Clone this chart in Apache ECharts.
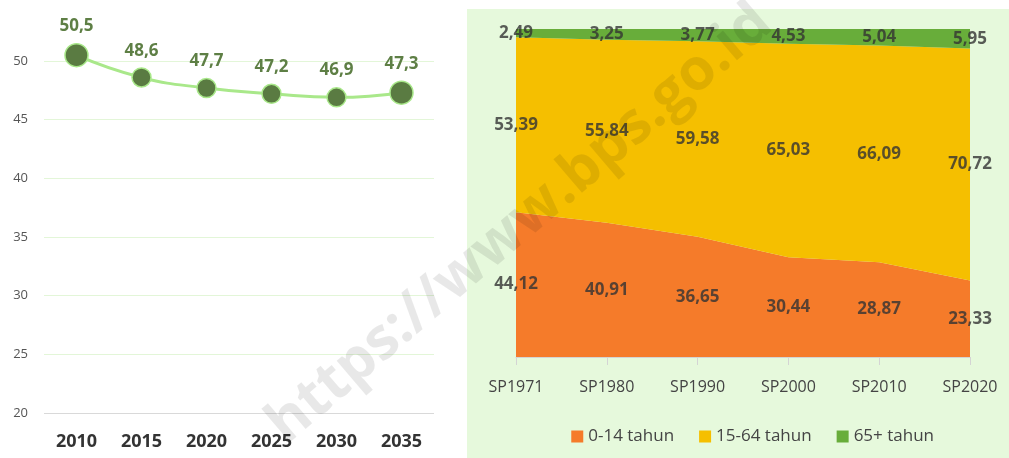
<!DOCTYPE html>
<html>
<head>
<meta charset="utf-8">
<script src="https://cdn.jsdelivr.net/npm/echarts@6/dist/echarts.min.js"></script>
<style>
  html, body { margin: 0; padding: 0; background: #fff; }
  #root { width: 1009px; height: 458px; }
</style>
</head>
<body>
<div id="root"></div>
<script>
// data kiri: rasio ketergantungan
var years = ['2010', '2015', '2020', '2025', '2030', '2035'];
var ratio = [50.5, 48.6, 47.7, 47.2, 46.9, 47.3];

// data kanan: komposisi umur (%)
var censuses = ['SP1971', 'SP1980', 'SP1990', 'SP2000', 'SP2010', 'SP2020'];
var age0_14 = [44.12, 40.91, 36.65, 30.44, 28.87, 23.33];
var age15_64 = [53.39, 55.84, 59.58, 65.03, 66.09, 70.72];
var age65 = [2.49, 3.25, 3.77, 4.53, 5.04, 5.95];

function comma(v, d) { return v.toFixed(d).replace('.', ','); }

// posisi label di tengah tiap pita
var mid0 = age0_14.map(function (v) { return v / 2; });
var mid1 = age15_64.map(function (v, i) { return age0_14[i] + v / 2; });
var mid2 = age65.map(function (v, i) { return age0_14[i] + age15_64[i] + v / 2; });

var font = '"Open Sans", "Noto Sans", sans-serif';

function labelSeries(mids, vals) {
    return {
        type: 'scatter', xAxisIndex: 1, yAxisIndex: 1,
        symbolSize: 1, itemStyle: { color: 'rgba(0,0,0,0)' },
        silent: true, z: 5,
        data: mids,
        label: {
            show: true, position: 'inside',
            fontFamily: font, fontSize: 17, fontWeight: 'bold', color: '#333',
            formatter: function (p) { return comma(vals[p.dataIndex], 2); }
        }
    };
}

var myChart = echarts.init(document.getElementById('root'));
myChart.setOption({
    animation: false,
    textStyle: { fontFamily: font },
    graphic: [
        { type: 'rect', z: -10, shape: { x: 467, y: 9, width: 542, height: 449 }, style: { fill: '#e6f9dc' } },
        {
            type: 'text', z: 100, x: 520, y: 224, rotation: 40.5 * Math.PI / 180,
            style: {
                text: 'https://www.bps.go.id', fontSize: 58, fontWeight: 'bold', fontFamily: font,
                fill: 'rgba(0,0,0,0.09)', align: 'center', verticalAlign: 'middle'
            }
        }
    ],
    legend: {
        data: ['0-14 tahun', '15-64 tahun', '65+ tahun'],
        right: 70, top: 423, orient: 'horizontal',
        icon: 'rect', itemWidth: 12, itemHeight: 12, itemGap: 25,
        textStyle: { fontSize: 17, color: '#444', fontFamily: font }
    },
    grid: [
        { left: 44, width: 390, top: 61, bottom: 45 },
        { left: 516, right: 39, top: 29, bottom: 101 }
    ],
    xAxis: [
        {
            type: 'category', gridIndex: 0, data: years, boundaryGap: true,
            axisLine: { show: false }, axisTick: { show: false },
            axisLabel: { fontSize: 18, fontWeight: 'bold', color: '#333', margin: 20 }
        },
        {
            type: 'category', gridIndex: 1, data: censuses, boundaryGap: false,
            axisLine: { lineStyle: { color: '#d4d4d4' } },
            axisTick: { show: true, length: 8, lineStyle: { color: '#d4d4d4' } },
            axisLabel: { fontSize: 16, color: '#444', margin: 22 }
        }
    ],
    yAxis: [
        {
            type: 'value', gridIndex: 0, min: 20, max: 50, interval: 5,
            axisLine: { show: false }, axisTick: { show: false },
            axisLabel: { fontSize: 13, color: '#555', margin: 16 },
            splitLine: { lineStyle: { color: ['#d9d9d9', '#e3f6d8', '#e3f6d8', '#e3f6d8', '#e3f6d8', '#e3f6d8', '#e3f6d8'] } }
        },
        {
            type: 'value', gridIndex: 1, min: 0, max: 100, show: false
        }
    ],
    series: [
        {
            name: 'ratio', type: 'line', xAxisIndex: 0, yAxisIndex: 0,
            data: ratio, smooth: true, clip: false,
            lineStyle: { color: '#a9e88a', width: 3 },
            symbol: 'circle',
            symbolSize: function (v, p) { return (p.dataIndex === 0 || p.dataIndex === ratio.length - 1) ? 23 : 19; },
            itemStyle: { color: '#5a7b42', borderColor: '#a9e88a', borderWidth: 1.5 },
            label: {
                show: true, position: 'top', distance: 8,
                fontSize: 17, fontWeight: 'bold', color: '#5e7f45',
                formatter: function (p) { return comma(p.value, 1); }
            }
        },
        {
            name: '0-14 tahun', type: 'line', xAxisIndex: 1, yAxisIndex: 1, stack: 'umur',
            data: age0_14, symbol: 'none', lineStyle: { width: 0 },
            itemStyle: { color: '#f57b2a' }, areaStyle: { color: '#f57b2a', opacity: 1 }
        },
        {
            name: '15-64 tahun', type: 'line', xAxisIndex: 1, yAxisIndex: 1, stack: 'umur',
            data: age15_64, symbol: 'none', lineStyle: { width: 0 },
            itemStyle: { color: '#f5bf00' }, areaStyle: { color: '#f5bf00', opacity: 1 }
        },
        {
            name: '65+ tahun', type: 'line', xAxisIndex: 1, yAxisIndex: 1, stack: 'umur',
            data: age65, symbol: 'none', lineStyle: { width: 0 },
            itemStyle: { color: '#68ad3a' }, areaStyle: { color: '#68ad3a', opacity: 1 }
        },
        labelSeries(mid0, age0_14),
        labelSeries(mid1, age15_64),
        labelSeries(mid2, age65)
    ]
});
</script>
</body>
</html>
